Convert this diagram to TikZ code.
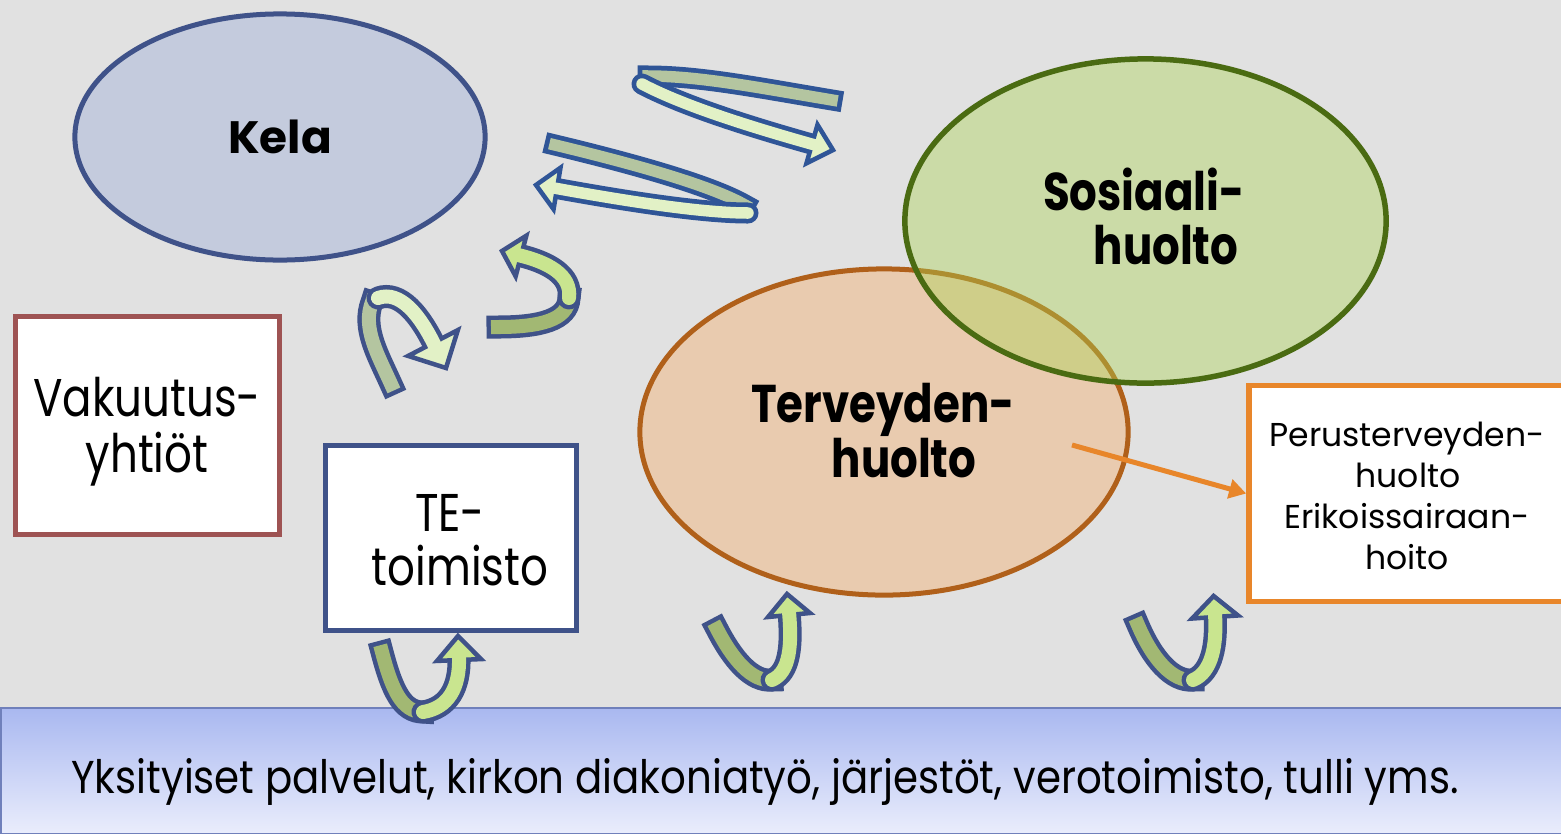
\documentclass[tikz,border=0pt]{standalone}
\usepackage{fontspec}
\setmainfont{Poppins}
\newfontfamily\fbig[FakeStretch=0.82]{Poppins}
\newfontfamily\fband[FakeStretch=0.875]{Poppins}
\usetikzlibrary{shapes.geometric,calc,arrows.meta}
\definecolor{bg}{HTML}{E1E1E1}
\definecolor{kelafill}{HTML}{C4CBDD}
\definecolor{navy}{HTML}{3F5289}
\definecolor{topblue}{HTML}{2F5597}
\definecolor{sosfill}{HTML}{AAD452}
\definecolor{sosborder}{HTML}{4A6B12}
\definecolor{terfill}{HTML}{E9CBAF}
\definecolor{terborder}{HTML}{B0601A}
\definecolor{vakborder}{HTML}{9E5353}
\definecolor{perborder}{HTML}{E8862A}
\definecolor{bandtop}{HTML}{A9B8F0}
\definecolor{bandbot}{HTML}{EAEDFC}
\definecolor{bandborder}{HTML}{7080BB}
\definecolor{darkA}{HTML}{B4C5A0}
\definecolor{lightA}{HTML}{E2F1C6}
\definecolor{darkB}{HTML}{A2B873}
\definecolor{lightB}{HTML}{C9E58F}
\newcommand\fsz[1]{\fontsize{#1pt}{#1pt}\selectfont}
\tikzset{
  lbl/.style={anchor=base, inner sep=0pt, text=black},
  bigbold/.style={lbl, font=\fbig\fsz{15.1}\bfseries},
  bignorm/.style={lbl, font=\fbig\fsz{15.1}},
  smallnorm/.style={lbl, font=\fsz{9.4}},
  oval/.style={ellipse, inner sep=0pt},
  whitebox/.style={rectangle, fill=white, inner sep=0pt, line width=0.05cm},
  otop/.style={draw=topblue, line width=0.21cm},
  itop/.style={line width=0.115cm},
  olow/.style={draw=navy, line width=0.23cm},
  ilow/.style={line width=0.14cm},
  headtop/.style={draw=topblue, line width=0.045cm, line join=miter},
  headlow/.style={draw=navy, line width=0.045cm, line join=miter},
}
% dark band: #1 outer style, #2 inner style, #3 fill, #4 path
\newcommand\dband[4]{%
  \draw[#1, line cap=rect] #4;
  \draw[#2, draw=#3, line cap=rect] #4;}
% light band with head: #1 outer, #2 inner, #3 fill, #4 path, #5 base, #6 tip, #7 half width, #8 head style
\newcommand\lband[8]{%
  \draw[#1, line cap=round] #4;
  \filldraw[fill=#3, #8] ($#5!#7!90:#6$) -- #6 -- ($#5!#7!-90:#6$) -- cycle;
  \draw[#2, draw=#3, line cap=round] #4;}
\begin{document}
\begin{tikzpicture}[x=0.01cm, y=-0.01cm]
\useasboundingbox (0,0) rectangle (1561,833);
\fill[bg] (0,0) rectangle (1561,833);
% bottom band
\node[rectangle, minimum width=15.64cm, minimum height=1.26cm, inner sep=0pt,
  top color=bandtop, bottom color=bandbot, draw=bandborder, line width=0.02cm] (band) at (783,771) {};
\node[lbl, font=\fband\fsz{13.1}] (bandtext) at (765,793) {Yksityiset palvelut, kirkon diakoniatyö, järjestöt, verotoimisto, tulli yms.};
% Kela
\node[oval, fill=kelafill, draw=navy, line width=0.05cm, minimum width=4.10cm, minimum height=2.46cm] (kela) at (280,137) {};
\node[lbl, font=\fsz{12.9}\bfseries] (kelat) at (280,153) {Kela};
% boxes
\node[whitebox, draw=vakborder, minimum width=2.63cm, minimum height=2.17cm] (vak) at (147.5,425.5) {};
\node[bignorm] (vak1) at (147,416) {Vakuutus-};
\node[bignorm] (vak2) at (147,472) {yhtiöt};
\node[whitebox, draw=navy, minimum width=2.50cm, minimum height=1.84cm] (te) at (451,538) {};
\node[bignorm] (te1) at (450,531) {TE-};
\node[bignorm] (te2) at (460,585) {toimisto};
\node[whitebox, draw=perborder, line width=0.055cm, minimum width=3.16cm, minimum height=2.16cm] (perus) at (1407,493.5) {};
\node[smallnorm] (p1) at (1407,446) {Perusterveyden-};
\node[smallnorm] (p2) at (1408,487) {huolto};
\node[smallnorm] (p3) at (1407,528) {Erikoissairaan-};
\node[smallnorm] (p4) at (1407,569) {hoito};
% ellipses
\node[oval, fill=terfill, draw=terborder, line width=0.05cm, minimum width=4.88cm, minimum height=3.26cm] (ter) at (884,432) {};
\node[oval, fill=sosfill, fill opacity=0.4, draw=sosborder, draw opacity=1, line width=0.055cm, minimum width=4.81cm, minimum height=3.24cm] (sos) at (1145.5,221) {};
\node[bigbold] (sos1) at (1144,210) {Sosiaali-};
\node[bigbold] (sos2) at (1166,264) {huolto};
\node[bigbold] (ter1) at (883,422) {Terveyden-};
\node[bigbold] (ter2) at (904,477) {huolto};
% orange connector
\coordinate (tstart) at (1072,445);
\draw[perborder, line width=0.05cm, -{Triangle[length=0.17cm,width=0.19cm]}] (tstart) -- (perus.west);
% ribbon arrow 1 (top upper)
\dband{otop}{itop}{darkA}{(832,100) .. controls (760,88) and (700,76) .. (648,76)}
\lband{otop}{itop}{lightA}{(642,84) .. controls (680,104) and (740,124) .. (815,145)}{(812,144)}{(833,150)}{0.2cm}{headtop}
% ribbon arrow 2 (top lower)
\dband{otop}{itop}{darkA}{(555,145) .. controls (630,163) and (710,185) .. (745,205)}
\lband{otop}{itop}{lightA}{(748,213) .. controls (700,213) and (620,200) .. (554,188)}{(557,188.5)}{(536,185)}{0.21cm}{headtop}
% ribbon arrow 3 (left loop)
\dband{olow}{ilow}{darkA}{(391,384) .. controls (378,355) and (362,328) .. (372,302)}
\lband{olow}{ilow}{lightA}{(378,298) .. controls (400,290) and (420,315) .. (435,346)}{(433,343)}{(446,368)}{0.28cm}{headlow}
% ribbon arrow 4 (right loop)
\dband{olow}{ilow}{darkB}{(498,327) .. controls (540,327) and (568,320) .. (569,298)}
\lband{olow}{ilow}{lightB}{(569,298) .. controls (572,275) and (548,262) .. (518,255)}{(521,256)}{(502,251)}{0.21cm}{headlow}
% ribbon arrow 5 (TE)
\dband{olow}{ilow}{darkB}{(382,652) .. controls (392,690) and (402,712) .. (423,712)}
\lband{olow}{ilow}{lightB}{(423,712) .. controls (448,708) and (460,688) .. (459,657)}{(459,660)}{(458,636)}{0.22cm}{headlow}
% ribbon arrow 6 (Terveyden)
\dband{olow}{ilow}{darkB}{(717,629) .. controls (733,660) and (752,682) .. (772,680)}
\lband{olow}{ilow}{lightB}{(772,680) .. controls (790,672) and (792,645) .. (789,612)}{(789,615)}{(787,594)}{0.21cm}{headlow}
% ribbon arrow 7 (Perus)
\dband{olow}{ilow}{darkB}{(1138,625) .. controls (1152,658) and (1172,682) .. (1193,680)}
\lband{olow}{ilow}{lightB}{(1193,680) .. controls (1212,672) and (1217,645) .. (1215,614)}{(1215,617)}{(1213.6,596)}{0.23cm}{headlow}
\end{tikzpicture}
\end{document}
